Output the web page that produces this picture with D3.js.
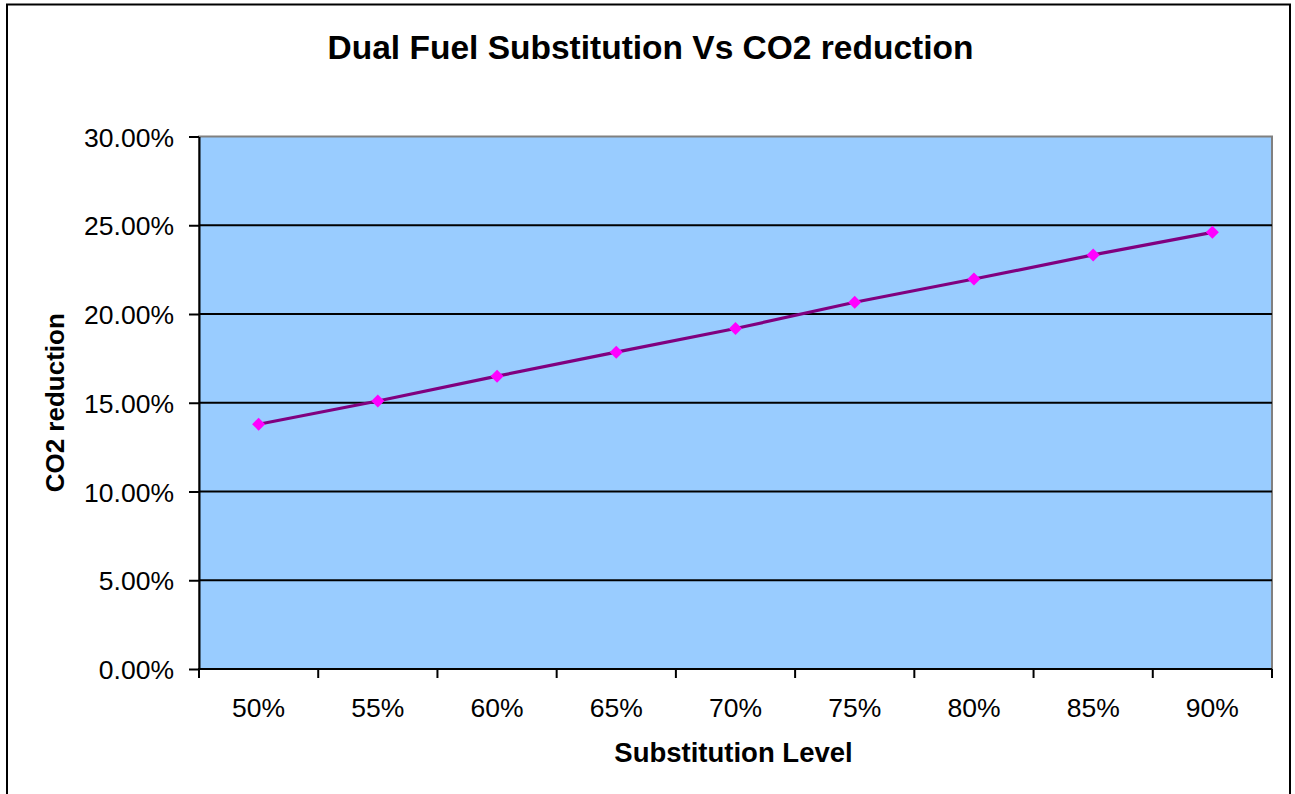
<!DOCTYPE html>
<html>
<head>
<meta charset="utf-8">
<script src="https://cdn.jsdelivr.net/npm/d3@7"></script>
<style>
  body { margin: 0; background: #fff; }
  text { font-family: "Liberation Sans", Arial, sans-serif; fill: #000; }
</style>
</head>
<body>
<div id="chart"></div>
<script>
// data
const substitutionLevels = ["50%", "55%", "60%", "65%", "70%", "75%", "80%", "85%", "90%"];
const co2Reduction = [0.1379, 0.1510, 0.1650, 0.1785, 0.1918, 0.2066, 0.2197, 0.2333, 0.2460];
const yTickValues = [0, 0.05, 0.10, 0.15, 0.20, 0.25, 0.30];

const chartTitle = "Dual Fuel Substitution Vs CO2 reduction";
const xTitle = "Substitution Level";
const yTitle = "CO2 reduction";

const W = 1295, H = 794;
const plot = { left: 199, right: 1272, top: 136.5, bottom: 669 };

const svg = d3.select("#chart").append("svg")
    .attr("width", W)
    .attr("height", H);

// outer chart frame
svg.append("rect")
    .attr("x", 7).attr("y", 4.5)
    .attr("width", 1283).attr("height", 820)
    .attr("fill", "#fff")
    .attr("stroke", "#000")
    .attr("stroke-width", 2);

const x = d3.scaleBand()
    .domain(substitutionLevels)
    .range([plot.left, plot.right])
    .padding(0);

const y = d3.scaleLinear()
    .domain([0, 0.30])
    .range([plot.bottom, plot.top]);

// plot area background
svg.append("rect")
    .attr("x", plot.left).attr("y", plot.top)
    .attr("width", plot.right - plot.left)
    .attr("height", plot.bottom - plot.top)
    .attr("fill", "#99CCFF")
    .attr("stroke", "#808080")
    .attr("stroke-width", 2);

// horizontal gridlines
svg.append("g")
    .selectAll("line")
    .data(yTickValues.filter(v => v > 0 && v < 0.30))
    .join("line")
    .attr("x1", plot.left).attr("x2", plot.right)
    .attr("y1", d => y(d)).attr("y2", d => y(d))
    .attr("stroke", "#000")
    .attr("stroke-width", 2);

// y axis
const yAxis = svg.append("g")
    .attr("transform", `translate(${plot.left},0)`)
    .call(d3.axisLeft(y)
        .tickValues(yTickValues)
        .tickFormat(d3.format(".2%"))
        .tickSize(10)
        .tickPadding(15)
        .tickSizeOuter(0));
yAxis.select(".domain").attr("stroke", "#000").attr("stroke-width", 2);
yAxis.selectAll(".tick line").attr("stroke", "#000").attr("stroke-width", 2);
yAxis.selectAll(".tick text")
    .attr("font-size", 26.5)
    .attr("font-family", "Liberation Sans, Arial, sans-serif")
    .attr("dy", "0.36em");

// x axis: labels centred in bands, ticks on band edges
const xAxis = svg.append("g")
    .attr("transform", `translate(0,${plot.bottom})`)
    .call(d3.axisBottom(x).tickSize(0).tickPadding(29).tickSizeOuter(0));
xAxis.select(".domain").remove();
xAxis.selectAll(".tick text")
    .attr("font-size", 26.5)
    .attr("font-family", "Liberation Sans, Arial, sans-serif");

const edges = substitutionLevels.map(d => x(d)).concat([x.range()[1]]);
svg.append("g")
    .selectAll("line")
    .data(edges)
    .join("line")
    .attr("x1", d => d).attr("x2", d => d)
    .attr("y1", plot.bottom).attr("y2", plot.bottom + 9)
    .attr("stroke", "#000")
    .attr("stroke-width", 2);

svg.append("line")
    .attr("x1", plot.left - 1).attr("x2", plot.right)
    .attr("y1", plot.bottom).attr("y2", plot.bottom)
    .attr("stroke", "#000")
    .attr("stroke-width", 2);

// series line
const line = d3.line()
    .x((d, i) => x(substitutionLevels[i]) + x.bandwidth() / 2)
    .y(d => y(d));

svg.append("path")
    .datum(co2Reduction)
    .attr("d", line)
    .attr("fill", "none")
    .attr("stroke", "#800080")
    .attr("stroke-width", 3.2);

// diamond markers
svg.append("g")
    .selectAll("path")
    .data(co2Reduction)
    .join("path")
    .attr("transform", (d, i) => `translate(${x(substitutionLevels[i]) + x.bandwidth() / 2},${y(d)})`)
    .attr("d", "M0,-6.5L6.5,0L0,6.5L-6.5,0Z")
    .attr("fill", "#FF00FF");

// titles
svg.append("text")
    .attr("x", 650.5).attr("y", 58.5)
    .attr("text-anchor", "middle")
    .attr("font-size", 33.5)
    .attr("font-weight", "bold")
    .text(chartTitle);

svg.append("text")
    .attr("x", (plot.left + plot.right) / 2 - 2).attr("y", 761.5)
    .attr("text-anchor", "middle")
    .attr("font-size", 27.5)
    .attr("font-weight", "bold")
    .text(xTitle);

svg.append("text")
    .attr("transform", `translate(64,${(plot.top + plot.bottom) / 2}) rotate(-90)`)
    .attr("text-anchor", "middle")
    .attr("font-size", 26)
    .attr("font-weight", "bold")
    .text(yTitle);
</script>
</body>
</html>
